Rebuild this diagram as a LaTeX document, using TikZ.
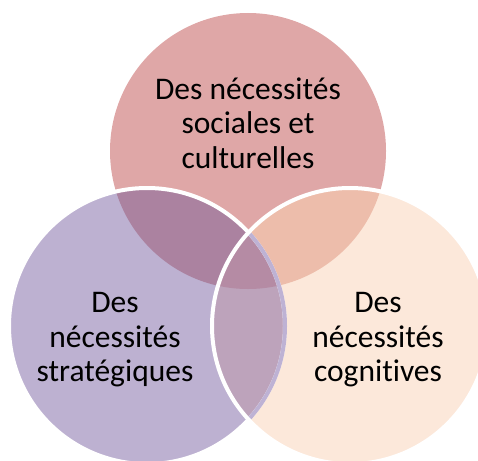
\documentclass[tikz,border=0pt]{standalone}
\usepackage{fontspec}
\setmainfont[Ligatures=NoCommon]{Carlito}
\definecolor{cT}{RGB}{223,167,167}
\definecolor{cL}{RGB}{189,177,209}
\definecolor{cR}{RGB}{252,232,218}
\definecolor{cTL}{RGB}{171,130,160}
\definecolor{cTR}{RGB}{237,189,171}
\definecolor{cLR}{RGB}{189,163,187}
\definecolor{cTLR}{RGB}{181,139,164}
\definecolor{cLine}{RGB}{190,178,212}
\begin{document}
\begin{tikzpicture}[x=1pt,y=-1pt,
  lbl/.style={align=center,font=\fontsize{31.5}{34.5}\selectfont,text=black,inner sep=0pt}]
\useasboundingbox (0,0) rectangle (478,460);
\coordinate (T) at (248,151);
\coordinate (L) at (147,326);
\coordinate (R) at (350,326);
\def\rad{138}
\begin{scope}
\clip (0,0) rectangle (478,460);
\fill[cT] (T) circle (\rad);
\fill[cL] (L) circle (\rad);
\fill[cR] (R) circle (\rad);
\begin{scope}\clip (T) circle (\rad); \fill[cTL] (L) circle (\rad); \end{scope}
\begin{scope}\clip (T) circle (\rad); \fill[cTR] (R) circle (\rad); \end{scope}
\begin{scope}\clip (L) circle (\rad); \fill[cLR] (R) circle (\rad); \end{scope}
\begin{scope}\clip (T) circle (\rad); \clip (L) circle (\rad); \fill[cTLR] (R) circle (\rad); \end{scope}
\draw[white,line width=4] (L) circle (\rad);
\begin{scope}\clip (R) circle (\rad); \draw[cLine,line width=4] (L) circle (\rad); \end{scope}
\draw[white,line width=4] (R) circle (\rad);
\end{scope}
\node[lbl] (tT) at (248,123) {Des nécessités\\sociales et\\culturelles};
\node[lbl] (tL) at (115,340) {Des\\nécessités\\stratégiques};
\node[lbl] (tR) at (378,340) {Des\\nécessités\\cognitives};
\end{tikzpicture}
\end{document}
